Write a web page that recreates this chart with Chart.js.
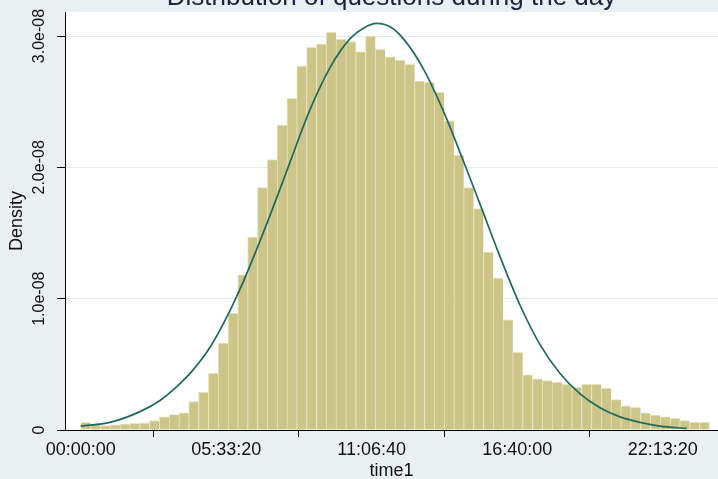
<!DOCTYPE html>
<html><head><meta charset="utf-8">
<script src="https://cdn.jsdelivr.net/npm/chart.js@4.4.1/dist/chart.umd.min.js"></script>
<style>html,body{margin:0;padding:0;background:#e9f0f2;} canvas{display:block;}</style>
</head><body>
<canvas id="c" width="718" height="479"></canvas>
<script>
const TITLE = 'Distribution of questions during the day';
const X_TITLE = 'time1';
const Y_TITLE = 'Density';

// histogram bins (time in ms since midnight), 64 bins of 22.5 minutes
const BIN_START_MS = 0;
const BIN_WIDTH_MS = 1350000;
// bar heights, density in units of 1e-8
const binDensityE8 = [
  0.058, 0.036, 0.033, 0.040, 0.046, 0.050, 0.053, 0.071, 0.101, 0.117,
  0.130, 0.216, 0.287, 0.432, 0.661, 0.889, 1.182, 1.469, 1.846, 2.059,
  2.321, 2.525, 2.771, 2.914, 2.939, 3.028, 2.975, 2.957, 2.880, 3.000,
  2.899, 2.842, 2.817, 2.784, 2.657, 2.647, 2.571, 2.354, 2.092, 1.846,
  1.686, 1.355, 1.156, 0.839, 0.592, 0.420, 0.389, 0.376, 0.363, 0.347,
  0.325, 0.347, 0.347, 0.317, 0.231, 0.185, 0.172, 0.130, 0.114, 0.101,
  0.088, 0.071, 0.058, 0.058
];

// normal density overlay (time in ms, density in 1e-8)
const curveTimeMs = [0, 4030000, 8150000, 10900000, 13200000, 15480000, 17770000, 20070000,
  22350000, 24650000, 27160000, 28770000, 31520000, 34270000, 37020000, 38850000,
  40690000, 42520000, 44340000, 47100000, 49840000, 52590000, 54890000, 57640000,
  60390000, 63140000, 65890000, 68640000, 71380000, 74130000, 76880000, 79630000, 83300000];
const curveDensityE8 = [0.03, 0.058, 0.14, 0.225, 0.33, 0.46, 0.63, 0.86,
  1.13, 1.44, 1.80, 2.04, 2.44, 2.76, 2.98, 3.06,
  3.096, 3.07, 2.98, 2.75, 2.43, 2.05, 1.72, 1.32,
  0.95, 0.65, 0.43, 0.275, 0.17, 0.10, 0.058, 0.03, 0.012];

const xTickValues = [0, 20000000, 40000000, 60000000, 80000000];
const xTickLabels = ['00:00:00', '05:33:20', '11:06:40', '16:40:00', '22:13:20'];
const yTickValuesE8 = [0, 1, 2, 3];
const yTickLabels = ['0', '1.0e-08', '2.0e-08', '3.0e-08'];

const FONT = 'Liberation Sans, Arial, sans-serif';

const bars = binDensityE8.map((v, i) => ({ x: BIN_START_MS + BIN_WIDTH_MS * (i + 0.5), y: v }));
const curve = curveTimeMs.map((t, i) => ({ x: t, y: curveDensityE8[i] }));

const bgPlugin = {
  id: 'bg',
  beforeDraw(chart) {
    const { ctx, chartArea: a } = chart;
    ctx.save();
    ctx.fillStyle = '#e9f0f2';
    ctx.fillRect(0, 0, chart.width, chart.height);
    ctx.fillStyle = '#ffffff';
    ctx.fillRect(a.left, a.top, a.right - a.left, a.bottom - a.top);
    ctx.restore();
  },
  afterDraw(chart) {
    const { ctx, chartArea: a } = chart;
    ctx.save();
    ctx.font = '26px ' + FONT;
    ctx.fillStyle = '#1c2341';
    ctx.textAlign = 'center';
    ctx.textBaseline = 'alphabetic';
    ctx.fillText(TITLE, (a.left + a.right) / 2, 5);
    ctx.restore();
  }
};

new Chart(document.getElementById('c'), {
  type: 'bar',
  data: {
    datasets: [
      {
        type: 'line', data: curve, borderColor: '#1d6a61', borderWidth: 1.7,
        pointRadius: 0, fill: false, tension: 0.4, cubicInterpolationMode: 'monotone', order: 0
      },
      {
        type: 'bar', data: bars, backgroundColor: '#cdc588', borderColor: '#e6e2bd',
        borderWidth: { top: 1, left: 1, right: 0, bottom: 0 }, borderSkipped: false,
        barPercentage: 1, categoryPercentage: 1, order: 1
      }
    ]
  },
  options: {
    responsive: false, animation: false, devicePixelRatio: 1,
    layout: { padding: { top: 12, right: 0, left: 0, bottom: 0 } },
    plugins: { legend: { display: false }, tooltip: { enabled: false }, title: { display: false } },
    scales: {
      x: {
        type: 'linear', min: -2160000, max: 87600000, offset: false,
        afterBuildTicks: s => { s.ticks = xTickValues.map(v => ({ value: v })); },
        afterFit: s => { s.height = 49; },
        ticks: {
          callback: (v, i) => xTickLabels[i], color: '#111', padding: 2,
          font: { family: FONT, size: 18 }, maxRotation: 0, minRotation: 0, autoSkip: false
        },
        grid: { drawOnChartArea: false, tickLength: 7, tickColor: '#000', color: '#000' },
        border: { display: true, color: '#000', width: 1 },
        title: { display: true, text: X_TITLE, color: '#111', font: { family: FONT, size: 18 }, padding: { top: 0, bottom: -3 } }
      },
      y: {
        type: 'linear', min: 0, max: 3.183,
        afterBuildTicks: s => { s.ticks = yTickValuesE8.map(v => ({ value: v })); },
        afterFit: s => { s.width = 65; },
        ticks: {
          callback: (v, i) => yTickLabels[i], color: '#111', padding: -10, crossAlign: 'center',
          minRotation: 90, maxRotation: 90, font: { family: FONT, size: 16 }, autoSkip: false
        },
        grid: { color: '#e3ebef', lineWidth: 1, tickLength: 8, tickColor: '#000' },
        border: { display: true, color: '#000', width: 1 },
        title: { display: true, text: Y_TITLE, color: '#111', font: { family: FONT, size: 18 }, padding: { top: 6, bottom: 0 } }
      }
    }
  },
  plugins: [bgPlugin]
});
</script>
</body></html>
